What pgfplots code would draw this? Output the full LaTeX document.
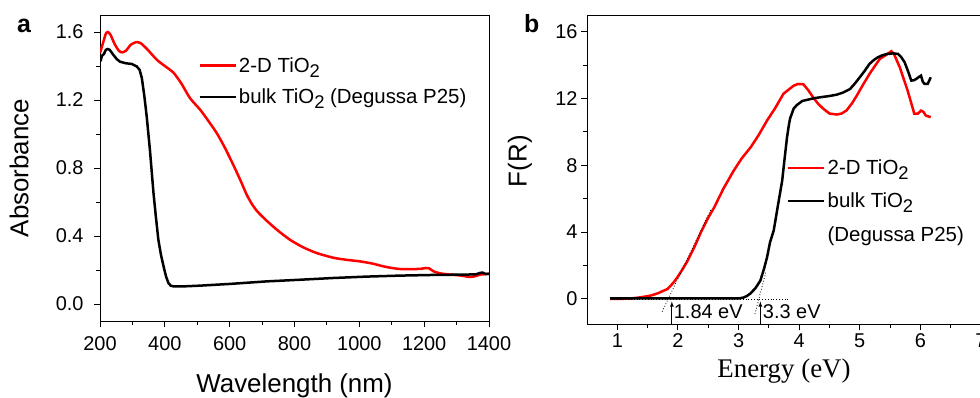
\documentclass[border=0pt]{standalone}
\usepackage{pgfplots}
\pgfplotsset{compat=1.18}
\usepackage{fontspec}
\usepackage{graphicx}
\setmainfont{Liberation Sans}
\newfontfamily\timesfont{Liberation Serif}
\newcommand{\subtwo}{\raisebox{-0.45ex}{\scalebox{0.9}{2}}}
\newcommand{\tickfont}{\fontsize{20}{22}\selectfont}
\newcommand{\legfont}{\fontsize{20.5}{23}\selectfont}
\newcommand{\labfont}{\fontsize{26}{29}\selectfont}

\pgfplotstableread{
x y
200 1.476
210 1.54
218 1.59
224 1.60
232 1.585
245 1.53
258 1.49
268 1.48
280 1.49
295 1.525
311 1.54
325 1.535
345 1.50
375 1.437
400 1.40
426 1.362
450 1.30
478 1.21
509 1.143
535 1.075
560 1.006
585 0.92
611 0.819
635 0.72
652 0.645
668 0.59
685 0.545
714 0.490
750 0.43
786 0.378
825 0.335
868 0.300
920 0.272
960 0.260
1001 0.251
1040 0.238
1073 0.222
1100 0.212
1125 0.206
1160 0.205
1190 0.207
1205 0.212
1215 0.210
1229 0.192
1250 0.180
1280 0.173
1310 0.168
1342 0.159
1360 0.165
1373 0.173
1385 0.175
1400 0.178
}\redA

\pgfplotstableread{
x y
200 1.440
203 1.437
206 1.46
212 1.47
218 1.495
224 1.50
230 1.495
241 1.466
252 1.44
262 1.425
280 1.416
298 1.412
313 1.398
322 1.378
329 1.33
337 1.22
344 1.104
354 0.907
365 0.653
372 0.52
380 0.378
388 0.29
396 0.222
404 0.16
411 0.124
418 0.108
426 0.104
450 0.103
509 0.108
600 0.118
714 0.133
820 0.143
920 0.153
1020 0.161
1125 0.167
1230 0.171
1331 0.173
1360 0.175
1373 0.183
1380 0.185
1390 0.176
1400 0.178
}\blackA

\pgfplotstableread{
x y
0.88 0
1.0 0
1.2 0.02
1.39 0.1
1.55 0.2
1.67 0.34
1.83 0.6
1.92 0.95
1.99 1.29
2.08 1.8
2.16 2.29
2.27 3.09
2.38 4.0
2.49 4.8
2.60 5.49
2.75 6.6
2.92 7.68
3.05 8.4
3.20 9.08
3.33 9.8
3.47 10.68
3.60 11.4
3.74 12.28
3.85 12.6
3.91 12.77
3.98 12.87
4.07 12.85
4.15 12.5
4.23 12.07
4.31 11.7
4.40 11.38
4.50 11.1
4.62 11.04
4.70 11.1
4.78 11.28
4.87 11.7
4.95 12.17
5.05 12.8
5.16 13.47
5.25 13.95
5.33 14.37
5.43 14.6
5.52 14.83
5.56 14.7
5.66 13.87
5.79 12.47
5.90 11.08
5.96 11.1
6.01 11.28
6.05 11.2
6.09 10.98
6.17 10.88
}\redB

\pgfplotstableread{
x y
0.88 0.03
1.5 0.03
2.5 0.03
3.0 0.03
3.08 0.08
3.14 0.18
3.20 0.34
3.28 0.65
3.36 1.1
3.42 1.8
3.47 2.49
3.52 3.4
3.58 4.09
3.65 5.6
3.72 7.08
3.76 8.4
3.80 9.68
3.83 10.4
3.85 10.8
3.88 11.1
3.91 11.4
3.96 11.6
4.05 11.85
4.13 11.92
4.25 12.02
4.34 12.07
4.50 12.15
4.62 12.23
4.72 12.35
4.84 12.57
4.92 12.9
5.0 13.27
5.08 13.65
5.16 14.07
5.23 14.3
5.30 14.47
5.38 14.6
5.46 14.67
5.55 14.7
5.63 14.67
5.68 14.5
5.74 14.17
5.80 13.6
5.85 13.07
5.90 13.1
5.93 13.17
5.98 13.3
6.01 13.37
6.04 13.0
6.07 12.87
6.12 12.87
6.15 13.1
6.17 13.27
}\blackB

\begin{document}
\begin{tikzpicture}
\pgfplotsset{
  every axis/.append style={
    scale only axis,
    axis line style={line width=0.9bp},
    tick style={line width=0.9bp, black},
    tick align=outside,
    tick pos=left,
    major tick length=6bp,
    minor tick length=4bp,
    ticklabel style={font=\tickfont},
    /pgf/number format/assume math mode=true,
    legend cell align=left,
    legend image code/.code={\draw[#1, line width=2.5bp] (0bp,0bp) -- (36bp,0bp);},
  },
}
% ---------- panel a ----------
\begin{axis}[
  at={(100bp,77bp)}, anchor=south west,
  width=389bp, height=306bp,
  xmin=200, xmax=1400, ymin=-0.1, ymax=1.7,
  xtick={200,400,600,800,1000,1200,1400},
  ytick={0,0.4,0.8,1.2,1.6},
  minor x tick num=1, minor y tick num=1,
  yticklabel style={xshift=-7bp, /pgf/number format/.cd, fixed, fixed zerofill, precision=1},
  xticklabel style={yshift=-6bp, /pgf/number format/.cd, set thousands separator={}},
  xlabel={Wavelength (nm)}, ylabel={Absorbance},
  xlabel style={font=\labfont, at={(axis description cs:0.5,-0.212)}, anchor=center},
  ylabel style={font=\labfont, at={(axis description cs:-0.208,0.5)}, anchor=center},
  legend style={draw=none, fill=none, font=\legfont, at={(axis description cs:0.245,0.875)}, anchor=north west, row sep=11bp},
]
\addplot[red, line width=2.5bp, smooth, tension=0.4] table {\redA};
\addlegendentry{2-D TiO\subtwo}
\addplot[black, line width=2.5bp] table {\blackA};
\addlegendentry{bulk TiO\subtwo{} (Degussa P25)}
\end{axis}
\node[font=\fontsize{25}{27}\selectfont\bfseries, anchor=base west, inner sep=0] at (17bp,365bp) {a};
% ---------- panel b ----------
\begin{axis}[
  at={(587bp,74bp)}, anchor=south west,
  width=394bp, height=309bp,
  xmin=0.5, xmax=7, ymin=-1.5, ymax=17,
  xtick={1,2,3,4,5,6,7},
  ytick={0,4,8,12,16},
  minor x tick num=1, minor y tick num=1,
  xlabel={\timesfont Energy (eV)}, ylabel={F(R)},
  xlabel style={font=\fontsize{27}{30}\selectfont, at={(axis description cs:0.5,-0.152)}, anchor=center},
  ylabel style={font=\labfont, at={(axis description cs:-0.170,0.527)}, anchor=center},
  legend style={draw=none, fill=none, font=\legfont, at={(axis description cs:0.5,0.545)}, anchor=north west, row sep=13bp},
]
\addplot[red, line width=2.5bp] table {\redB};
\addlegendentry{2-D TiO\subtwo}
\addplot[black, line width=2.5bp] table {\blackB};
\addlegendentry{bulk TiO\subtwo}
\addlegendimage{empty legend}
\addlegendentry{(Degussa P25)}
% tangents and baseline
\addplot[black, dotted, line width=0.8bp, forget plot] coordinates {(1.74,-0.76) (2.55,5.40)};
\addplot[black, dotted, line width=0.8bp, forget plot] coordinates {(3.27,-0.90) (3.45,1.60)};
\addplot[black, dotted, line width=0.8bp, forget plot] coordinates {(0.95,-0.05) (3.85,-0.05)};
% arrows
\addplot[black, line width=0.8bp, -latex, forget plot] coordinates {(1.90,-1.5) (1.90,-0.15)};
\addplot[black, line width=0.8bp, -latex, forget plot] coordinates {(3.36,-1.5) (3.36,-0.15)};
\node[font=\tickfont, anchor=west, inner sep=0] at (axis cs:1.93,-0.75) {1.84 eV};
\node[font=\tickfont, anchor=west, inner sep=0] at (axis cs:3.40,-0.75) {3.3 eV};
\end{axis}
\node[font=\fontsize{25}{27}\selectfont\bfseries, anchor=base west, inner sep=0] at (524bp,365bp) {b};
\pgfresetboundingbox
\useasboundingbox (0bp,0bp) rectangle (980bp,398bp);
\end{tikzpicture}
\end{document}
